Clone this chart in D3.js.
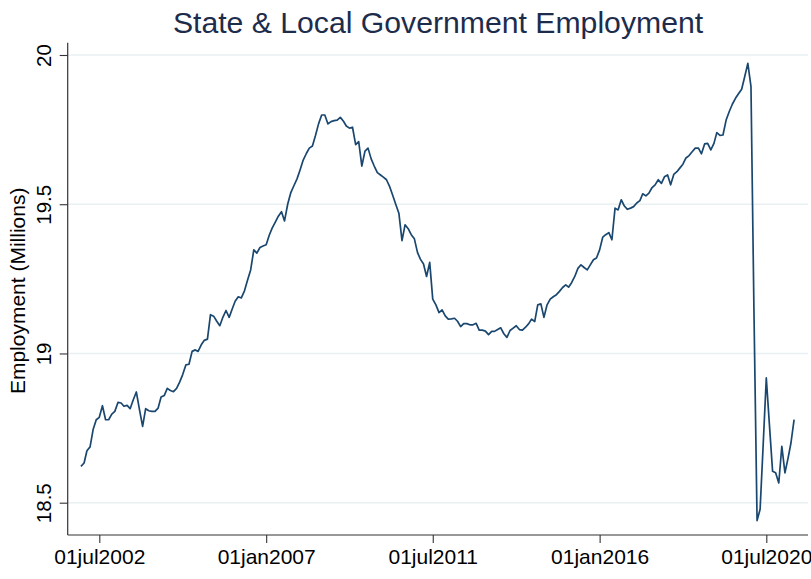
<!DOCTYPE html>
<html>
<head>
<meta charset="utf-8">
<script src="https://cdn.jsdelivr.net/npm/d3@7"></script>
<style>
  html, body { margin: 0; padding: 0; background: #ffffff; }
  svg { display: block; }
</style>
</head>
<body>
<svg id="chart" width="811" height="579"></svg>
<script>
// ---------- DATA ----------
const titleText = "State & Local Government Employment";
const yAxisTitle = "Employment (Millions)";
const seriesStart = "2002-01-01"; // first monthly observation
// Monthly employment (millions), Jan 2002 onward
const employment = [
  18.622, 18.633, 18.674, 18.687, 18.745, 18.778, 18.786, 18.825, 18.778, 18.778,
  18.797, 18.806, 18.836, 18.834, 18.823, 18.826, 18.815, 18.845, 18.871, 18.812,
  18.756, 18.815, 18.808, 18.806, 18.806, 18.817, 18.854, 18.859, 18.883, 18.876,
  18.872, 18.883, 18.905, 18.930, 18.962, 18.964, 19.007, 19.012, 19.007, 19.029,
  19.044, 19.048, 19.130, 19.125, 19.108, 19.093, 19.122, 19.144, 19.121, 19.150,
  19.175, 19.190, 19.186, 19.210, 19.245, 19.280, 19.347, 19.336, 19.355, 19.360,
  19.364, 19.397, 19.420, 19.440, 19.460, 19.475, 19.444, 19.500, 19.539, 19.562,
  19.585, 19.615, 19.648, 19.670, 19.688, 19.695, 19.730, 19.770, 19.799, 19.799,
  19.769, 19.777, 19.780, 19.782, 19.791, 19.778, 19.762, 19.755, 19.758, 19.700,
  19.710, 19.628, 19.678, 19.688, 19.652, 19.628, 19.606, 19.598, 19.591, 19.582,
  19.560, 19.530, 19.500, 19.470, 19.378, 19.431, 19.418, 19.398, 19.384, 19.338,
  19.316, 19.300, 19.258, 19.305, 19.182, 19.163, 19.137, 19.146, 19.126, 19.115,
  19.116, 19.118, 19.108, 19.090, 19.100, 19.100, 19.096, 19.096, 19.101, 19.078,
  19.078, 19.075, 19.063, 19.074, 19.074, 19.080, 19.086, 19.066, 19.054, 19.077,
  19.085, 19.093, 19.080, 19.078, 19.088, 19.100, 19.115, 19.107, 19.163, 19.166,
  19.121, 19.163, 19.182, 19.190, 19.197, 19.208, 19.221, 19.230, 19.222, 19.238,
  19.258, 19.285, 19.297, 19.288, 19.280, 19.297, 19.314, 19.320, 19.347, 19.390,
  19.398, 19.405, 19.381, 19.487, 19.481, 19.515, 19.494, 19.483, 19.487, 19.492,
  19.504, 19.512, 19.535, 19.528, 19.537, 19.556, 19.565, 19.582, 19.570, 19.592,
  19.598, 19.565, 19.600, 19.609, 19.621, 19.634, 19.655, 19.663, 19.676, 19.688,
  19.688, 19.669, 19.702, 19.704, 19.682, 19.704, 19.740, 19.731, 19.732, 19.782,
  19.810, 19.835, 19.855, 19.870, 19.885, 19.927, 19.972, 19.894, 19.150, 18.440,
  18.478, 18.700, 18.918, 18.760, 18.605, 18.600, 18.566, 18.689, 18.600, 18.650,
  18.700, 18.778
];
const xTickDates = ["2002-07-01", "2007-01-01", "2011-07-01", "2016-01-01", "2020-07-01"];
const xTickLabels = ["01jul2002", "01jan2007", "01jul2011", "01jan2016", "01jul2020"];
const yTickValues = [18.5, 19, 19.5, 20];
const yTickLabels = ["18.5", "19", "19.5", "20"];

// ---------- LAYOUT ----------
const W = 811, H = 579;
const plot = { left: 67.7, right: 808, top: 42.7, bottom: 535 };
const FONT = "'Liberation Sans', Arial, Helvetica, sans-serif";
const lineColor = "#1a476f";

const svg = d3.select("#chart");
svg.append("rect").attr("width", W).attr("height", H).attr("fill", "#ffffff");

const parse = d3.utcParse("%Y-%m-%d");
const start = parse(seriesStart);
const data = employment.map((v, i) => ({ date: d3.utcMonth.offset(start, i), value: v }));

const x = d3.scaleUtc()
  .domain([parse(xTickDates[0]), parse(xTickDates[4])])
  .range([99.3, 766.3]);
const y = d3.scaleLinear()
  .domain([18.5, 20])
  .range([502.7, 55]);

// gridlines
svg.append("g")
  .selectAll("line")
  .data(yTickValues)
  .join("line")
  .attr("x1", plot.left)
  .attr("x2", plot.right)
  .attr("y1", d => y(d))
  .attr("y2", d => y(d))
  .attr("stroke", "#e8f0f2")
  .attr("stroke-width", 1.6);

// line
const line = d3.line()
  .x(d => x(d.date))
  .y(d => y(d.value));
svg.append("path")
  .datum(data)
  .attr("d", line)
  .attr("fill", "none")
  .attr("stroke", lineColor)
  .attr("stroke-width", 1.7)
  .attr("stroke-linejoin", "round");

// y axis
const yAxis = svg.append("g")
  .attr("transform", `translate(${plot.left},0)`)
  .call(d3.axisLeft(y).tickValues(yTickValues).tickSize(8).tickPadding(8)
    .tickFormat((d, i) => yTickLabels[i]));
yAxis.select(".domain").remove();
yAxis.selectAll(".tick line").attr("stroke", "#333").attr("stroke-width", 1.1);
yAxis.selectAll(".tick text")
  .attr("font-family", FONT)
  .attr("font-size", 20.5)
  .attr("fill", "#000")
  .attr("text-anchor", "middle")
  .attr("transform", "rotate(-90)")
  .attr("x", 0)
  .attr("dy", 0)
  .attr("y", -17);

// x axis
const xAxis = svg.append("g")
  .attr("transform", `translate(0,${plot.bottom})`)
  .call(d3.axisBottom(x).tickValues(xTickDates.map(parse)).tickSize(8).tickPadding(6)
    .tickFormat((d, i) => xTickLabels[i]));
xAxis.select(".domain").remove();
xAxis.selectAll(".tick line").attr("stroke", "#333").attr("stroke-width", 1.1);
xAxis.selectAll(".tick text")
  .attr("font-family", FONT)
  .attr("font-size", 21)
  .attr("fill", "#000");

// axis lines
svg.append("line")
  .attr("x1", plot.left).attr("x2", plot.left)
  .attr("y1", plot.top).attr("y2", plot.bottom)
  .attr("stroke", "#333").attr("stroke-width", 1.2);
svg.append("line")
  .attr("x1", plot.left).attr("x2", plot.right)
  .attr("y1", plot.bottom).attr("y2", plot.bottom)
  .attr("stroke", "#333").attr("stroke-width", 1.2);

// y axis title
svg.append("text")
  .attr("transform", `translate(25,${(plot.top + plot.bottom) / 2 + 2}) rotate(-90)`)
  .attr("text-anchor", "middle")
  .attr("font-family", FONT)
  .attr("font-size", 21)
  .attr("fill", "#000")
  .text(yAxisTitle);

// title
svg.append("text")
  .attr("x", 438)
  .attr("y", 33)
  .attr("text-anchor", "middle")
  .attr("font-family", FONT)
  .attr("font-size", 30.2)
  .attr("fill", "#1e2c4c")
  .text(titleText);
</script>
</body>
</html>
